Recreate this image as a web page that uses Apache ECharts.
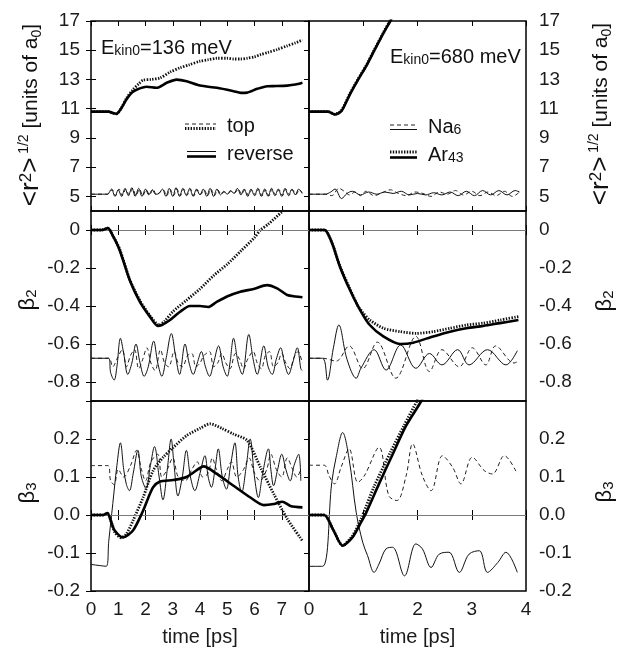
<!DOCTYPE html>
<html><head><meta charset="utf-8">
<script src="https://cdn.jsdelivr.net/npm/echarts@6/dist/echarts.min.js"></script>
<style>html,body{margin:0;padding:0;background:#fff}#c{width:618px;height:650px}</style>
</head><body><div id="c"></div>
<script>
// ---------- tick labels ----------
const xTicksLeft = [0,1,2,3,4,5,6,7];
const xTicksRight = [0,1,2,3,4];
const yTicksR = [5,7,9,11,13,15,17];
const yTicksB2 = [-0.8,-0.6,-0.4,-0.2,0];
const yTicksB3 = [-0.2,-0.1,0,0.1,0.2];

// ---------- top row: <r^2>^(1/2)  [t (ps), value] ----------
const rL_arTop = [[0,10.8],[0.65,10.8],[0.8,10.7],[0.93,10.65],[1.1,11.0],[1.3,11.7],[1.54,12.3],[1.75,12.7],[1.91,12.95],[2.2,13.0],[2.53,13.1],[2.9,13.5],[3.27,13.8],[3.6,14.0],[4.0,14.25],[4.3,14.35],[4.62,14.45],[5.0,14.45],[5.23,14.4],[5.5,14.4],[5.73,14.45],[6.0,14.55],[6.22,14.7],[6.5,14.85],[6.83,15.05],[7.2,15.3],[7.5,15.5],[7.76,15.7]];
const rL_arRev = [[0,10.8],[0.65,10.8],[0.8,10.7],[0.93,10.65],[1.1,11.0],[1.3,11.63],[1.5,12.1],[1.67,12.3],[2.04,12.5],[2.4,12.43],[2.78,12.77],[3.14,12.99],[3.51,12.88],[4.0,12.58],[4.62,12.43],[5.23,12.2],[5.5,12.08],[5.73,12.1],[6.1,12.36],[6.47,12.54],[6.8,12.55],[7.2,12.58],[7.5,12.65],[7.76,12.77]];
const rL_naRev = [[0,5.15],[0.6,5.15],[0.75,5.5],[0.88,5.0],[1.0,5.45],[1.12,5.0],[1.25,5.55],[1.37,5.05],[1.5,5.6],[1.62,5.0],[1.75,5.55],[1.87,5.0],[2.0,5.5],[2.12,5.1],[2.25,5.45],[2.37,5.15],[2.5,5.2],[2.62,5.5],[2.75,5.0],[2.87,5.55],[3.0,5.0],[3.12,5.6],[3.25,5.0],[3.37,5.55],[3.5,5.05],[3.62,5.55],[3.75,5.0],[3.87,5.5],[4.0,5.1],[4.12,5.5],[4.25,5.0],[4.37,5.55],[4.5,5.0],[4.62,5.5],[4.75,5.1],[4.87,5.35],[5.0,5.15],[5.12,5.4],[5.25,5.2],[5.37,5.55],[5.5,5.1],[5.62,5.5],[5.75,5.0],[5.87,5.5],[6.0,5.05],[6.12,5.55],[6.25,5.0],[6.37,5.5],[6.5,5.0],[6.62,5.55],[6.75,5.05],[6.87,5.5],[7.0,5.0],[7.12,5.55],[7.25,5.05],[7.37,5.5],[7.5,5.1],[7.62,5.5],[7.75,5.2]];
const rL_naTop = [[0,5.15],[0.6,5.15],[0.78,5.45],[0.9,5.05],[1.03,5.5],[1.15,5.05],[1.28,5.5],[1.4,5.1],[1.53,5.55],[1.65,5.05],[1.78,5.5],[1.9,5.05],[2.03,5.45],[2.15,5.1],[2.28,5.5],[2.4,5.1],[2.53,5.3],[2.65,5.45],[2.78,5.05],[2.9,5.5],[3.03,5.05],[3.15,5.5],[3.28,5.05],[3.4,5.5],[3.53,5.1],[3.65,5.5],[3.78,5.05],[3.9,5.45],[4.03,5.15],[4.15,5.45],[4.28,5.05],[4.4,5.5],[4.53,5.05],[4.65,5.45],[4.78,5.15],[4.9,5.3],[5.03,5.2],[5.15,5.35],[5.28,5.25],[5.4,5.5],[5.53,5.15],[5.65,5.45],[5.78,5.05],[5.9,5.45],[6.03,5.1],[6.15,5.5],[6.28,5.05],[6.4,5.45],[6.53,5.05],[6.65,5.5],[6.78,5.1],[6.9,5.45],[7.03,5.05],[7.15,5.5],[7.28,5.1],[7.4,5.45],[7.53,5.15],[7.65,5.45],[7.75,5.25]];
const rR_arTop = [[0,10.8],[0.35,10.8],[0.48,10.62],[0.6,10.9],[0.75,12.0],[0.9,13.0],[1.06,14.0],[1.2,15.0],[1.37,16.2],[1.49,17.0],[1.6,17.8]];
const rR_arRev = [[0,10.8],[0.35,10.8],[0.48,10.6],[0.6,10.85],[0.75,11.95],[0.9,12.95],[1.06,13.95],[1.2,14.95],[1.37,16.15],[1.5,17.0],[1.6,17.7]];
const rR_naRev = [[0,5.15],[0.3,5.15],[0.4,5.3],[0.48,5.5],[0.6,4.85],[0.7,5.2],[0.8,5.35],[0.95,5.1],[1.1,5.3],[1.25,5.15],[1.4,5.3],[1.55,5.2],[1.7,5.35],[1.85,5.1],[2.0,5.2],[2.15,5.1],[2.3,5.25],[2.45,5.1],[2.6,5.3],[2.75,5.05],[2.9,5.35],[3.05,5.05],[3.2,5.4],[3.35,5.1],[3.5,5.4],[3.65,5.1],[3.8,5.4],[3.88,5.3]];
const rR_naTop = [[0,5.15],[0.3,5.15],[0.42,5.05],[0.55,5.55],[0.65,5.35],[0.75,5.1],[0.85,5.3],[0.95,5.05],[1.05,5.35],[1.2,5.05],[1.35,5.25],[1.5,5.45],[1.65,5.2],[1.8,5.05],[1.95,5.3],[2.1,5.2],[2.25,5.0],[2.4,5.3],[2.55,5.15],[2.7,5.4],[2.85,5.1],[3.0,5.35],[3.15,5.05],[3.3,5.3],[3.45,5.05],[3.6,5.35],[3.75,5.0],[3.88,5.3]];

// ---------- middle row: beta_2 ----------
const b2L_arTop = [[0,0],[0.4,0],[0.62,0.01],[0.8,-0.03],[1.05,-0.1],[1.42,-0.26],[1.79,-0.37],[2.16,-0.45],[2.5,-0.5],[2.7,-0.48],[3.0,-0.43],[3.5,-0.37],[4.0,-0.31],[4.5,-0.24],[5.0,-0.18],[5.5,-0.11],[6.0,-0.04],[6.22,0],[6.5,0.03],[7.0,0.095],[7.1,0.11]];
const b2L_arRev = [[0,0],[0.4,0],[0.62,0.01],[0.8,-0.03],[1.05,-0.105],[1.42,-0.263],[1.79,-0.377],[2.16,-0.456],[2.45,-0.505],[2.6,-0.5],[2.9,-0.474],[3.27,-0.43],[3.63,-0.4],[4.0,-0.4],[4.3,-0.405],[4.6,-0.38],[4.99,-0.35],[5.48,-0.325],[5.97,-0.31],[6.46,-0.29],[6.83,-0.307],[7.2,-0.342],[7.5,-0.35],[7.76,-0.354]];
const b2L_naRev = [[0,-0.675],[0.65,-0.675],[0.72,-0.75],[0.85,-0.79],[0.95,-0.72],[1.08,-0.57],[1.2,-0.65],[1.35,-0.76],[1.5,-0.7],[1.65,-0.6],[1.8,-0.7],[1.95,-0.77],[2.1,-0.72],[2.3,-0.585],[2.45,-0.7],[2.6,-0.77],[2.75,-0.68],[2.95,-0.545],[3.1,-0.66],[3.25,-0.76],[3.45,-0.6],[3.6,-0.7],[3.75,-0.76],[3.9,-0.7],[4.05,-0.64],[4.2,-0.72],[4.35,-0.77],[4.5,-0.7],[4.68,-0.61],[4.85,-0.72],[5.0,-0.77],[5.1,-0.7],[5.23,-0.57],[5.4,-0.7],[5.55,-0.76],[5.79,-0.55],[5.95,-0.68],[6.1,-0.76],[6.34,-0.61],[6.5,-0.72],[6.65,-0.76],[6.8,-0.68],[6.96,-0.62],[7.1,-0.7],[7.25,-0.76],[7.4,-0.7],[7.57,-0.62],[7.7,-0.73],[7.75,-0.74]];
const b2L_naTop = [[0,-0.675],[0.65,-0.675],[0.8,-0.72],[0.95,-0.68],[1.15,-0.63],[1.3,-0.72],[1.45,-0.66],[1.6,-0.63],[1.75,-0.73],[1.9,-0.68],[2.05,-0.62],[2.2,-0.7],[2.35,-0.74],[2.55,-0.63],[2.7,-0.7],[2.85,-0.72],[3.05,-0.64],[3.2,-0.7],[3.35,-0.72],[3.55,-0.66],[3.7,-0.65],[3.85,-0.72],[4.0,-0.7],[4.15,-0.66],[4.35,-0.64],[4.5,-0.72],[4.65,-0.7],[4.8,-0.65],[4.95,-0.7],[5.1,-0.73],[5.3,-0.65],[5.45,-0.68],[5.6,-0.73],[5.75,-0.68],[5.95,-0.64],[6.1,-0.7],[6.25,-0.73],[6.4,-0.66],[6.55,-0.64],[6.7,-0.72],[6.85,-0.7],[7.0,-0.65],[7.15,-0.7],[7.3,-0.73],[7.45,-0.67],[7.6,-0.64],[7.75,-0.7]];
const b2R_arTop = [[0,0],[0.29,0],[0.35,-0.02],[0.45,-0.088],[0.57,-0.19],[0.755,-0.31],[0.9,-0.4],[1.0,-0.437],[1.12,-0.474],[1.37,-0.517],[1.68,-0.535],[1.98,-0.544],[2.29,-0.535],[2.6,-0.517],[2.9,-0.5],[3.21,-0.49],[3.52,-0.474],[3.86,-0.456]];
const b2R_arRev = [[0,0],[0.29,0],[0.35,-0.02],[0.45,-0.088],[0.57,-0.193],[0.755,-0.316],[0.94,-0.42],[1.12,-0.5],[1.37,-0.56],[1.68,-0.6],[1.92,-0.593],[2.29,-0.56],[2.6,-0.535],[2.9,-0.517],[3.21,-0.505],[3.52,-0.49],[3.86,-0.474]];
const b2R_naRev = [[0,-0.675],[0.25,-0.675],[0.34,-0.79],[0.45,-0.62],[0.55,-0.5],[0.7,-0.68],[0.87,-0.78],[0.96,-0.726],[1.2,-0.63],[1.42,-0.737],[1.69,-0.605],[1.97,-0.728],[2.22,-0.65],[2.45,-0.71],[2.74,-0.63],[2.95,-0.71],[3.29,-0.63],[3.63,-0.71],[3.84,-0.635]];
const b2R_naTop = [[0,-0.675],[0.25,-0.675],[0.5,-0.69],[0.74,-0.61],[0.99,-0.73],[1.26,-0.59],[1.6,-0.78],[1.97,-0.56],[2.22,-0.745],[2.45,-0.63],[2.77,-0.72],[3.01,-0.62],[3.26,-0.71],[3.44,-0.61],[3.78,-0.7],[3.86,-0.69]];

// ---------- bottom row: beta_3 ----------
const b3L_arTop = [[0,0],[0.44,0],[0.6,0.005],[0.75,-0.02],[0.87,-0.045],[1.1,-0.06],[1.3,-0.05],[1.54,-0.015],[1.91,0.046],[2.28,0.117],[2.65,0.152],[3.02,0.178],[3.51,0.209],[4.0,0.228],[4.37,0.24],[4.8,0.228],[5.23,0.213],[5.73,0.196],[6.22,0.125],[6.71,0.055],[7.2,-0.01],[7.76,-0.068]];
const b3L_arRev = [[0,0],[0.44,0],[0.6,0.005],[0.75,-0.02],[0.87,-0.041],[1.17,-0.059],[1.54,-0.041],[1.91,0.011],[2.1,0.045],[2.28,0.073],[2.53,0.088],[3.02,0.092],[3.51,0.1],[4.0,0.124],[4.13,0.128],[4.62,0.108],[5.23,0.077],[5.85,0.046],[6.34,0.026],[6.71,0.029],[7.02,0.035],[7.32,0.024],[7.76,0.02]];
const b3L_naRev = [[0,-0.13],[0.56,-0.135],[0.65,-0.07],[0.8,0.03],[0.95,0.13],[1.08,0.19],[1.2,0.12],[1.3,0.08],[1.41,0.064],[1.55,0.11],[1.72,0.17],[1.85,0.1],[2.02,0.07],[2.18,0.13],[2.33,0.18],[2.5,0.1],[2.64,0.04],[2.8,0.12],[2.94,0.2],[3.05,0.13],[3.19,0.05],[3.35,0.1],[3.5,0.17],[3.65,0.1],[3.81,0.064],[4.0,0.11],[4.18,0.156],[4.3,0.1],[4.42,0.073],[4.55,0.12],[4.67,0.174],[4.82,0.1],[4.97,0.068],[5.12,0.13],[5.28,0.19],[5.4,0.1],[5.53,0.06],[5.7,0.13],[5.84,0.2],[6.0,0.1],[6.14,0.046],[6.3,0.11],[6.51,0.174],[6.6,0.12],[6.7,0.077],[6.85,0.12],[7.0,0.16],[7.15,0.12],[7.31,0.09],[7.45,0.13],[7.62,0.16],[7.7,0.09]];
const b3L_naTop = [[0,0.13],[0.62,0.13],[0.72,0.09],[0.85,0.08],[1.0,0.12],[1.2,0.1],[1.45,0.13],[1.67,0.17],[1.85,0.12],[2.0,0.09],[2.2,0.14],[2.45,0.16],[2.6,0.1],[2.8,0.12],[3.0,0.15],[3.2,0.1],[3.45,0.09],[3.7,0.12],[3.9,0.14],[4.1,0.1],[4.3,0.11],[4.45,0.15],[4.6,0.12],[4.8,0.09],[5.0,0.12],[5.15,0.14],[5.35,0.1],[5.6,0.12],[5.8,0.15],[6.0,0.11],[6.2,0.09],[6.45,0.12],[6.6,0.16],[6.8,0.12],[7.0,0.1],[7.2,0.15],[7.4,0.12],[7.55,0.1],[7.7,0.12]];
const b3R_arTop = [[0,0],[0.28,0],[0.44,-0.037],[0.62,-0.08],[0.8,-0.055],[0.96,-0.01],[1.2,0.075],[1.5,0.165],[1.75,0.235],[1.99,0.3],[2.1,0.33]];
const b3R_arRev = [[0,0],[0.28,0],[0.44,-0.037],[0.62,-0.081],[0.8,-0.059],[0.96,-0.019],[1.05,0.005],[1.29,0.082],[1.53,0.156],[1.79,0.235],[2.07,0.3],[2.2,0.34]];
const b3R_naRev = [[0,-0.135],[0.25,-0.135],[0.42,0.086],[0.5,0.152],[0.62,0.217],[0.74,0.147],[0.87,0.007],[0.99,-0.072],[1.08,-0.107],[1.2,-0.151],[1.29,-0.129],[1.42,-0.089],[1.54,-0.085],[1.76,-0.16],[1.97,-0.076],[2.09,-0.089],[2.25,-0.138],[2.4,-0.103],[2.58,-0.098],[2.77,-0.151],[2.95,-0.103],[3.14,-0.094],[3.29,-0.151],[3.48,-0.125],[3.63,-0.098],[3.84,-0.151]];
const b3R_naTop = [[0,0.131],[0.28,0.131],[0.37,0.103],[0.47,0.082],[0.59,0.125],[0.74,0.174],[0.9,0.086],[1.02,0.103],[1.29,0.178],[1.47,0.051],[1.62,0.038],[1.79,0.103],[1.91,0.187],[2.09,0.103],[2.25,0.064],[2.46,0.156],[2.65,0.125],[2.8,0.082],[3.01,0.152],[3.23,0.117],[3.38,0.108],[3.6,0.156],[3.84,0.108]];

// ---------- chart ----------
const FONT = '"Liberation Sans", Arial, Helvetica, sans-serif';
const chart = echarts.init(document.getElementById('c'), null, {renderer: 'canvas'});

const colLeft = [91, 309], colWidth = [218, 217];
const rowTop = [21, 211, 401], rowH = 190;
const yCfg = [
  {min: 4, max: 17, ticks: yTicksR, labels: yTicksR, fmt: v => String(Math.round(v))},
  {min: -0.9, max: 0.1, ticks: yTicksB2, labels: yTicksB2, fmt: v => (Math.abs(v) < 1e-9 ? '0' : v.toFixed(1))},
  {min: -0.2, max: 0.3, ticks: yTicksB3.concat([0.3]), labels: yTicksB3, fmt: v => (Math.abs(v) < 1e-9 ? '0.0' : v.toFixed(1))}
];

const grid = [], xAxis = [], yAxis = [], series = [];
const tickStyle = {color: '#000', width: 1};
const labStyle = {fontSize: 19, color: '#1a1a1a', fontFamily: FONT};

for (let gi = 0; gi < 6; gi++) {
  const col = gi % 2, row = Math.floor(gi / 2);
  grid.push({left: colLeft[col], top: rowTop[row], width: colWidth[col], height: rowH,
    show: true, borderColor: '#000', borderWidth: 1.5, backgroundColor: 'transparent'});
  const xt = col === 0 ? xTicksLeft : xTicksRight;
  const xBase = {gridIndex: gi, type: 'value', min: 0, max: col === 0 ? 8 : 4, interval: 1,
    axisLine: {show: false}, splitLine: {show: false},
    axisTick: {show: true, inside: true, length: 5, lineStyle: tickStyle}};
  xAxis.push(Object.assign({}, xBase, {position: 'bottom',
    axisLabel: Object.assign({show: row === 2, margin: 9, formatter: v => (xt.indexOf(v) >= 0 ? String(v) : '')}, labStyle),
    name: row === 2 ? 'time [ps]' : '', nameLocation: 'middle', nameGap: 36,
    nameTextStyle: {fontSize: 20, color: '#1a1a1a', fontFamily: FONT}}));
  xAxis.push(Object.assign({}, xBase, {position: 'top', axisLabel: {show: false}}));
  const yc = yCfg[row];
  const yBase = {gridIndex: gi, type: 'value', min: yc.min, max: yc.max,
    axisLine: {show: false}, splitLine: {show: false}};
  yAxis.push(Object.assign({}, yBase, {position: 'left',
    axisTick: {show: col === 0, inside: true, length: 5, lineStyle: tickStyle, customValues: yc.ticks},
    axisLabel: Object.assign({show: col === 0, margin: 11, customValues: yc.labels, formatter: yc.fmt}, labStyle)}));
  yAxis.push(Object.assign({}, yBase, {position: 'right',
    axisTick: {show: true, inside: true, length: 5, lineStyle: tickStyle, customValues: yc.ticks},
    axisLabel: Object.assign({show: col === 1, margin: 13, customValues: yc.labels, formatter: yc.fmt}, labStyle)}));
}

const ST = {
  arTop: {color: '#111', width: 2.8, type: [1.4, 1.4]},
  arRev: {color: '#000', width: 2.6, type: 'solid'},
  naTop: {color: '#222', width: 1, type: [4, 3]},
  naRev: {color: '#111', width: 1, type: 'solid'}
};
function addLine(gi, data, key, z, zeroLine) {
  const s = {type: 'line', xAxisIndex: 2 * gi, yAxisIndex: 2 * gi, data: data,
    showSymbol: false, symbol: 'none', smooth: key.startsWith('na') ? 0.35 : 0.25, clip: true,
    lineStyle: ST[key], z: z, animation: false, silent: true};
  if (zeroLine) {
    s.markLine = {silent: true, symbol: ['none', 'none'], animation: false, label: {show: false},
      lineStyle: {color: '#7a7a7a', width: 1, type: 'solid'}, data: [{yAxis: 0}]};
  }
  series.push(s);
}
const panels = [
  [rL_naTop, rL_naRev, rL_arTop, rL_arRev],
  [rR_naTop, rR_naRev, rR_arTop, rR_arRev],
  [b2L_naTop, b2L_naRev, b2L_arTop, b2L_arRev],
  [b2R_naTop, b2R_naRev, b2R_arTop, b2R_arRev],
  [b3L_naTop, b3L_naRev, b3L_arTop, b3L_arRev],
  [b3R_naTop, b3R_naRev, b3R_arTop, b3R_arRev]
];
panels.forEach((p, gi) => {
  addLine(gi, p[0], 'naTop', 2, gi >= 2);
  addLine(gi, p[1], 'naRev', 3, false);
  addLine(gi, p[2], 'arTop', 4, false);
  addLine(gi, p[3], 'arRev', 5, false);
});

const txt = (x, y, text, rich, extra) => Object.assign({type: 'text', x: x, y: y, z: 100, silent: true,
  style: {text: text, rich: rich, fill: '#111', fontFamily: FONT, align: 'left', verticalAlign: 'middle'}}, extra || {});
const ln = (x1, y1, x2, y2, st) => ({type: 'line', z: 100, silent: true, shape: {x1: x1, y1: y1, x2: x2, y2: y2},
  style: {stroke: st.color, lineWidth: st.width, lineDash: Array.isArray(st.type) ? st.type : null}});

const richE = {a: {fontSize: 20, fontFamily: FONT, fill: '#111', lineHeight: 21}, s: {fontSize: 14, fontFamily: FONT, fill: '#111', lineHeight: 8, verticalAlign: 'bottom'}};
const richR = {
  b: {fontSize: 26, fontFamily: FONT, fill: '#111', lineHeight: 27},
  p: {fontSize: 17, fontFamily: FONT, fill: '#111', lineHeight: 17, verticalAlign: 'top'},
  h: {fontSize: 14, fontFamily: FONT, fill: '#111', lineHeight: 14, verticalAlign: 'top'},
  n: {fontSize: 21, fontFamily: FONT, fill: '#111', lineHeight: 23},
  u: {fontSize: 14, fontFamily: FONT, fill: '#111', lineHeight: 8, verticalAlign: 'bottom'}
};
const richB = {b: {fontSize: 22, fontFamily: FONT, fill: '#111', lineHeight: 23}, u: {fontSize: 15, fontFamily: FONT, fill: '#111', lineHeight: 8, verticalAlign: 'bottom'}};
const rLabel = '{b|<r}{p|2}{b|>}{h| 1/2}{n| [units of a}{u|0}{n|]}';
const rot = {rotation: Math.PI / 2};

const graphic = [
  txt(101, 48, '{a|E}{s|kin0}{a|=136 meV}', richE),
  txt(390, 57, '{a|E}{s|kin0}{a|=680 meV}', richE),
  // legend left
  ln(185, 124, 216, 124, ST.naTop), ln(185, 128.5, 216, 128.5, ST.arTop),
  txt(227, 126, '{a|top}', richE),
  ln(187, 151.5, 216, 151.5, ST.naRev), ln(187, 156.5, 216, 156.5, ST.arRev),
  txt(227, 154, '{a|reverse}', richE),
  // legend right
  ln(390, 125, 417, 125, ST.naTop), ln(390, 129.5, 417, 129.5, ST.naRev),
  txt(428, 127, '{a|Na}{s|6}', richE),
  ln(390, 152, 417, 152, ST.arTop), ln(390, 157.5, 417, 157.5, ST.arRev),
  txt(428, 155, '{a|Ar}{s|43}', richE),
  // axis names
  txt(31, 115, rLabel, richR, rot),
  txt(601, 114, rLabel, richR, rot),
  txt(28, 300, '{b|β}{u|2}', richB, rot),
  txt(605, 301, '{b|β}{u|2}', richB, rot),
  txt(28, 493, '{b|β}{u|3}', richB, rot),
  txt(605, 492, '{b|β}{u|3}', richB, rot)
];
graphic.forEach(g => { if (g.rotation) g.style.align = 'center'; });

chart.setOption({
  animation: false,
  backgroundColor: '#fff',
  grid: grid, xAxis: xAxis, yAxis: yAxis, series: series, graphic: graphic
});
</script>
</body></html>
